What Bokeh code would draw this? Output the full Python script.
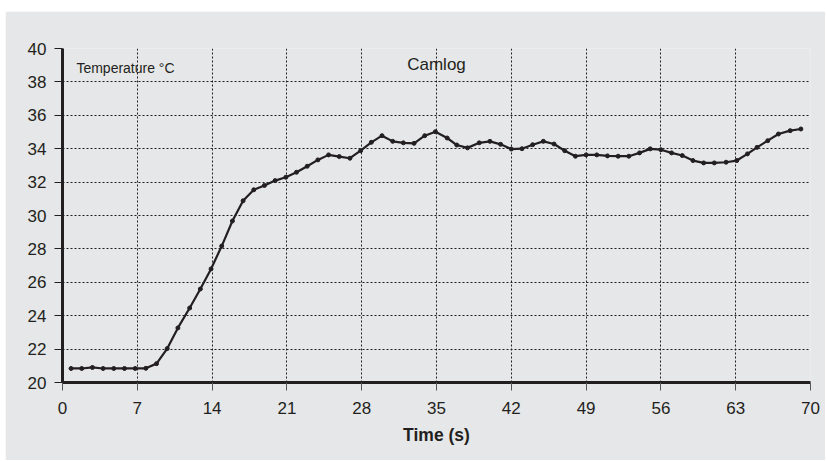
from bokeh.plotting import figure
from bokeh.layouts import column, row
from bokeh.models import FixedTicker, Label, Range1d, Spacer
from bokeh.embed import file_html
from bokeh.resources import INLINE

# Data
time_s = [0.8, 1.8, 2.8, 3.8, 4.8, 5.8, 6.8, 7.8, 8.8, 9.8,
          10.8, 11.9, 12.9, 13.9, 14.9, 15.9, 16.9, 17.9, 18.9, 19.9,
          20.9, 21.9, 22.9, 23.9, 24.9, 25.9, 26.9, 27.9, 28.9, 29.9,
          30.9, 31.9, 32.9, 33.9, 34.9, 36.0, 36.9, 37.9, 39.0, 40.0,
          41.0, 42.0, 43.0, 44.0, 45.0, 46.0, 47.0, 48.0, 49.0, 50.0,
          51.0, 52.0, 53.0, 54.0, 55.0, 56.0, 57.0, 58.0, 59.0, 60.0,
          61.0, 62.1, 63.1, 64.1, 65.0, 66.0, 67.0, 68.1, 69.1]
temperature_c = [20.84, 20.84, 20.90, 20.84, 20.84, 20.84, 20.84, 20.85, 21.13, 22.03,
                 23.27, 24.46, 25.60, 26.80, 28.17, 29.67, 30.88, 31.54, 31.80, 32.09,
                 32.29, 32.59, 32.95, 33.33, 33.63, 33.53, 33.43, 33.88, 34.38, 34.78,
                 34.44, 34.35, 34.32, 34.78, 35.02, 34.64, 34.22, 34.05, 34.35, 34.44,
                 34.26, 33.98, 34.00, 34.24, 34.44, 34.28, 33.88, 33.55, 33.63, 33.63,
                 33.57, 33.55, 33.55, 33.75, 33.99, 33.94, 33.75, 33.59, 33.29, 33.15,
                 33.15, 33.19, 33.29, 33.69, 34.08, 34.48, 34.88, 35.08, 35.18]
x_ticks = [0, 7, 14, 21, 28, 35, 42, 49, 56, 63, 70]
y_ticks = [20, 22, 24, 26, 28, 30, 32, 34, 36, 38, 40]
title_text = "Camlog"
y_label_text = "Temperature °C"
x_label_text = "Time (s)"

BG = "#e6e7e8"
INK = "#231f20"
FONT = "Liberation Sans"

p = figure(width=820, height=449, output_backend="svg", toolbar_location=None,
           x_range=Range1d(0, 70), y_range=Range1d(20, 40),
           min_border_left=57, min_border_right=15, min_border_top=37, min_border_bottom=78)
p.background_fill_color = BG
p.border_fill_color = BG
p.outline_line_color = None

for ax in (p.xaxis[0], p.yaxis[0]):
    ax.axis_line_color = INK
    ax.axis_line_width = 3
    ax.major_tick_line_color = INK
    ax.major_tick_line_width = 1
    ax.major_tick_out = 8
    ax.major_tick_in = 0
    ax.minor_tick_line_color = None
    ax.major_label_text_font = FONT
    ax.major_label_text_font_size = "17px"
    ax.major_label_text_color = INK

p.xaxis.ticker = FixedTicker(ticks=x_ticks)
p.yaxis.ticker = FixedTicker(ticks=y_ticks)
p.xaxis.major_tick_line_color = "#555555"
p.xaxis.major_label_standoff = 11
p.yaxis.major_label_standoff = 8
p.xaxis.axis_label = x_label_text
p.xaxis.axis_label_text_font = FONT
p.xaxis.axis_label_text_font_style = "bold"
p.xaxis.axis_label_text_font_size = "17.5px"
p.xaxis.axis_label_text_color = INK
p.xaxis.axis_label_standoff = 8

p.xgrid.ticker = FixedTicker(ticks=x_ticks)
p.ygrid.ticker = FixedTicker(ticks=y_ticks)
for g in (p.xgrid[0], p.ygrid[0]):
    g.grid_line_color = INK
    g.grid_line_width = 1
    g.grid_line_dash = "2 2"

p.line(time_s, temperature_c, line_color=INK, line_width=2.2)
p.scatter(time_s, temperature_c, size=4, fill_color=INK, line_color=INK)

p.add_layout(Label(x=35, y=39.02, text=title_text, text_align="center",
                   text_baseline="alphabetic", text_font=FONT,
                   text_font_size="17px", text_color=INK))
p.add_layout(Label(x=1.3, y=38.85, text=y_label_text, text_align="left",
                   text_baseline="alphabetic", text_font=FONT,
                   text_font_size="14px", text_color=INK))

page = column(Spacer(height=11), row(Spacer(width=5), p))
open("out.html", "w").write(file_html(page, INLINE))
